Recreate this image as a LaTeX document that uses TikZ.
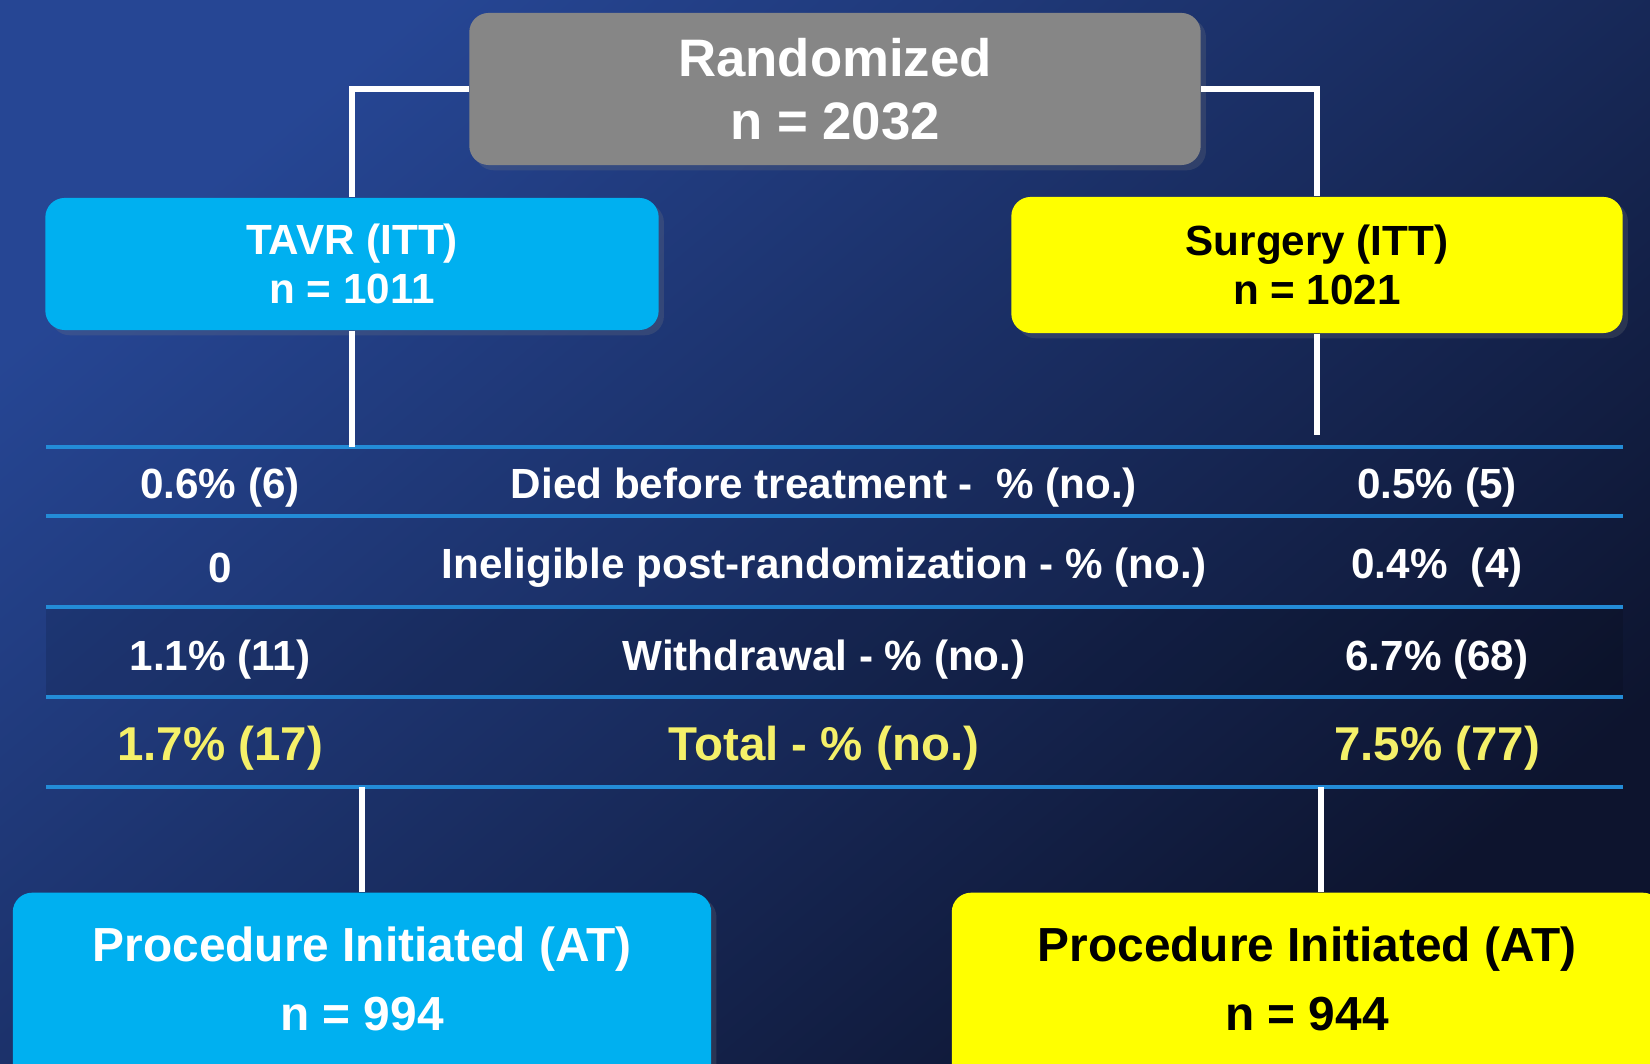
\documentclass[tikz,border=0pt]{standalone}
\usepackage{fontspec}
\setmainfont{Liberation Sans}
\usetikzlibrary{shadows}
\definecolor{bgtop}{RGB}{38,70,148}
\definecolor{bgmid}{RGB}{27,44,98}
\definecolor{bgbot}{RGB}{13,20,46}
\definecolor{randgray}{RGB}{134,134,134}
\definecolor{tavrblue}{RGB}{0,176,240}
\definecolor{surgyellow}{RGB}{255,255,0}
\definecolor{lineblue}{RGB}{35,140,215}
\definecolor{totyellow}{RGB}{245,240,105}
\tikzset{
  box/.style={rounded corners=5.5pt, inner sep=0pt, align=center,
    drop shadow={shadow xshift=1.5pt, shadow yshift=-1.5pt, opacity=0.22}},
  conn/.style={white, line width=1.9pt},
  rowline/.style={lineblue, line width=1pt},
  cell/.style={text=white, font=\fontsize{12}{14}\selectfont\bfseries},
  totcell/.style={text=totyellow, font=\fontsize{13.5}{16}\selectfont\bfseries}
}
\begin{document}
\begin{tikzpicture}[x=0.01cm, y=0.01cm]
  \useasboundingbox (0,0) rectangle (1650,1064);
  \shade[top color=bgtop, middle color=bgmid, bottom color=bgbot, shading angle=40] (0,0) rectangle (1650,1064);

  % top of the chart
  \node[box, fill=randgray, text=white, minimum width=7.31cm, minimum height=1.52cm,
    font=\fontsize{15}{18}\selectfont\bfseries] (rand) at (835,975) {Randomized\\n = 2032};
  \node[box, fill=tavrblue, text=white, minimum width=6.13cm, minimum height=1.32cm,
    font=\fontsize{12}{14}\selectfont\bfseries] (tavr) at (352,800) {TAVR (ITT)\\n = 1011};
  \node[box, fill=surgyellow, text=black, minimum width=6.11cm, minimum height=1.36cm,
    font=\fontsize{12}{14}\selectfont\bfseries] (surg) at (1317,799) {Surgery (ITT)\\n = 1021};

  % the table
  \coordinate (ltop) at (46,617);
  \coordinate (lbot) at (46,277);
  \fill[black, opacity=0.12] (46,457) rectangle (1623,367);
  \foreach \y in {617,548,457,367,277} \draw[rowline] (46,\y) -- (1623,\y);
  \foreach \i/\y/\a/\b/\c/\st in {
      1/576/{0.6\% (6)}/{Died before treatment -\ \ \% (no.)}/{0.5\% (5)}/cell,
      2/496/{0}/{Ineligible post-randomization - \% (no.)}/{0.4\%\ \ (4)}/cell,
      3/404/{1.1\% (11)}/{Withdrawal - \% (no.)}/{6.7\% (68)}/cell,
      4/316/{1.7\% (17)}/{Total - \% (no.)}/{7.5\% (77)}/totcell} {
    \node[\st] (a\i) at (220,\y) {\a};
    \node[\st] (b\i) at (824,\y) {\b};
    \node[\st] (c\i) at (1437,\y) {\c};
  }

  % bottom boxes
  \node[box, fill=tavrblue, minimum width=6.98cm, minimum height=2.6cm, anchor=north] (procL) at (362,172) {};
  \node[text=white, align=center, font=\fontsize{13.6}{19.5}\selectfont\bfseries] (procLtxt) at (362,85) {Procedure Initiated (AT)\\n = 994};
  \node[box, fill=surgyellow, minimum width=7.1cm, minimum height=2.6cm, anchor=north] (procR) at (1307,172) {};
  \node[text=black, align=center, font=\fontsize{13.6}{19.5}\selectfont\bfseries] (procRtxt) at (1307,85) {Procedure Initiated (AT)\\n = 944};

  % connectors
  \draw[conn] (rand.west) -| (tavr.north);
  \draw[conn] (rand.east) -| (surg.north);
  \draw[conn] (tavr.south) -- (tavr.south |- ltop);
  \draw[conn] (surg.south) -- ([yshift=0.12cm]surg.south |- ltop);
  \draw[conn] (procL.north |- lbot) -- (procL.north);
  \draw[conn] ([xshift=0.04cm]surg.south |- lbot) -- ([xshift=0.04cm]surg.south |- procR.north);
\end{tikzpicture}
\end{document}
